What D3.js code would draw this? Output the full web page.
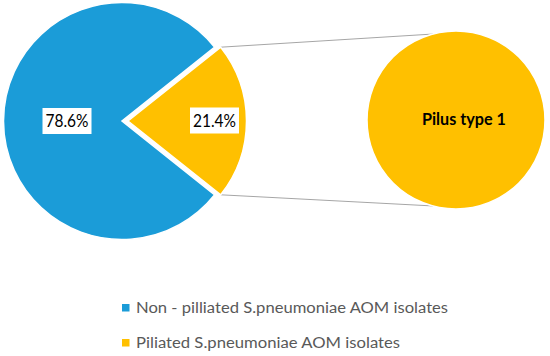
<!DOCTYPE html>
<html><head><meta charset="utf-8">
<script src="https://cdn.jsdelivr.net/npm/d3@7"></script>
<style>html,body{margin:0;padding:0;background:#fff;}svg{display:block;}</style>
</head><body>
<svg id="c" width="550" height="356"></svg>
<script>
const categories = ["Piliated S.pneumoniae AOM isolates", "Non - pilliated S.pneumoniae AOM isolates"];
const values = [21.4, 78.6];
const labels = ["21.4%", "78.6%"];
const colors = ["#FFC000", "#1B9CD8"];
const legendOrder = [1, 0];
const secondPieCategories = ["Pilus type 1"];
const secondPieValues = [100];

const svg = d3.select("#c");
const cx = 122, cy = 121, R = 118.5, explode = 6;
const span = values[0] / d3.sum(values) * 2 * Math.PI;
const start = Math.PI / 2 - span / 2;
const pie = d3.pie().sort(null).startAngle(start).endAngle(start + 2 * Math.PI);
const arcs = pie(values);
const arc = d3.arc().innerRadius(0).outerRadius(R);

function fit(t, w) {
  t.attr("textLength", w).attr("lengthAdjust", "spacingAndGlyphs");
}

// second pie
const c2x = 456, c2y = 120, R2 = 89;
const pie2 = d3.pie().sort(null);
const arc2 = d3.arc().innerRadius(0).outerRadius(R2);

// connector lines
const ya = arcs[0];
const off = [explode * Math.sin((ya.startAngle + ya.endAngle) / 2), -explode * Math.cos((ya.startAngle + ya.endAngle) / 2)];
const p1 = [cx + off[0] + R * Math.sin(ya.startAngle), cy + off[1] - R * Math.cos(ya.startAngle)];
const p2 = [cx + off[0] + R * Math.sin(ya.endAngle), cy + off[1] - R * Math.cos(ya.endAngle)];
const a1 = -15 * Math.PI / 180, a2 = Math.PI + 15 * Math.PI / 180;
const q1 = [c2x + R2 * Math.sin(a1), c2y - R2 * Math.cos(a1)];
const q2 = [c2x + R2 * Math.sin(a2), c2y - R2 * Math.cos(a2)];
svg.append("line").attr("x1", p1[0]).attr("y1", p1[1]).attr("x2", q1[0]).attr("y2", q1[1])
  .attr("stroke", "#a6a6a6").attr("stroke-width", 1);
svg.append("line").attr("x1", p2[0]).attr("y1", p2[1]).attr("x2", q2[0]).attr("y2", q2[1])
  .attr("stroke", "#a6a6a6").attr("stroke-width", 1);

// first pie
const g = svg.append("g");
arcs.forEach((d, i) => {
  const mid = (d.startAngle + d.endAngle) / 2;
  const dx = i === 0 ? explode * Math.sin(mid) : 0;
  const dy = i === 0 ? -explode * Math.cos(mid) : 0;
  g.append("path").attr("d", arc(d))
    .attr("transform", `translate(${cx + dx},${cy + dy})`)
    .attr("fill", colors[i]).attr("stroke", "#fff").attr("stroke-width", 1.5);
});

svg.append("g").attr("transform", `translate(${c2x},${c2y})`)
  .selectAll("path").data(pie2(secondPieValues)).join("path")
  .attr("d", arc2).attr("fill", colors[0]).attr("stroke", "#fff").attr("stroke-width", 1.5);

// data labels
const labelPos = [[214.5, 120.5], [67, 121]];
labels.forEach((l, i) => {
  const gg = svg.append("g");
  gg.append("rect").attr("x", labelPos[i][0] - 24.5).attr("y", labelPos[i][1] - 13)
    .attr("width", 49).attr("height", 26).attr("fill", "#fff");
  const t = gg.append("text").attr("x", labelPos[i][0]).attr("y", labelPos[i][1] + 6)
    .attr("text-anchor", "middle").attr("font-family", "Lato").attr("font-size", 16.5)
    .attr("fill", "#000").text(l);
  fit(t, 43);
});

// second pie label
const pt = svg.append("text").attr("x", 464).attr("y", 124.5).attr("text-anchor", "middle")
  .attr("font-family", "Lato").attr("font-weight", "bold").attr("font-size", 17)
  .attr("fill", "#000").text(secondPieCategories[0]);
fit(pt, 84);

// legend
const legY = [313, 348];
const legW = [312, 264];
legendOrder.forEach((idx, k) => {
  svg.append("rect").attr("x", 122).attr("y", legY[k] - 9).attr("width", 7.5).attr("height", 7.5)
    .attr("fill", colors[idx]);
  const t = svg.append("text").attr("x", 136).attr("y", legY[k])
    .attr("font-family", "Lato").attr("font-size", 15.5).attr("fill", "#595959").text(categories[idx]);
  fit(t, legW[k]);
});
</script>
</body></html>
